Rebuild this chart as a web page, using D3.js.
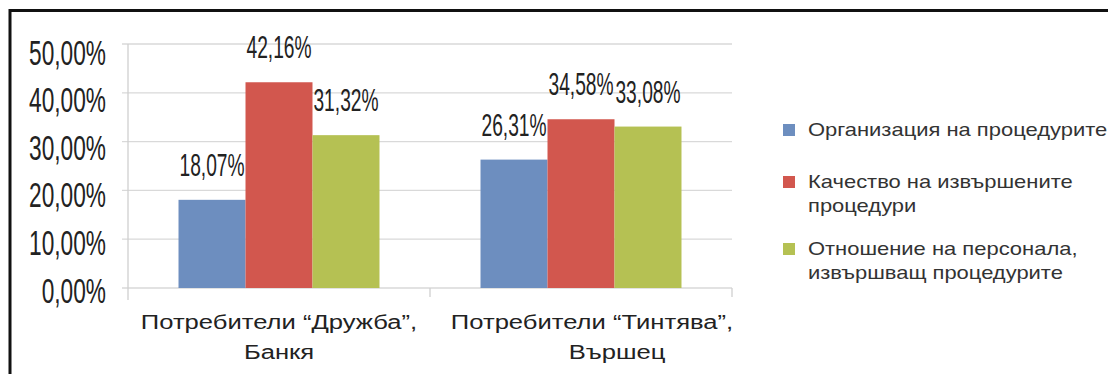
<!DOCTYPE html>
<html><head><meta charset="utf-8">
<script src="https://cdn.jsdelivr.net/npm/d3@7"></script>
<style>body{margin:0;background:#fff}svg{display:block}</style>
</head><body>
<svg id="c" width="1108" height="374"></svg>
<script>
const categories = [["Потребители “Дружба”,", "Банкя"], ["Потребители “Тинтява”,", "Вършец"]];
const seriesNames = [["Организация на процедурите"], ["Качество на извършените", "процедури"], ["Отношение на персонала,", "извършващ процедурите"]];
const seriesValues = [[18.07, 26.31], [42.16, 34.58], [31.32, 33.08]];
const yTicks = [0, 10, 20, 30, 40, 50];
const colors = ["#6d8ebf", "#d2574e", "#b5c153"];

const svg = d3.select("#c");
const numFont = "'Liberation Sans',Arial,sans-serif";
const txtFont = "'Liberation Sans',Arial,sans-serif";

// frame
svg.append("path").attr("d", "M10,380 V10.5 H1110").attr("fill", "none").attr("stroke", "#111").attr("stroke-width", 3);

const x0 = d3.scaleBand().domain(d3.range(categories.length)).range([128, 732]);
const x1 = d3.scaleBand().domain(d3.range(seriesNames.length)).range([0, x0.bandwidth()]).paddingOuter(0.754);
const y = d3.scaleLinear().domain([0, 50]).range([288, 44]);

// gridlines
svg.append("g").selectAll("line").data(yTicks).join("line")
  .attr("x1", 122).attr("x2", 732).attr("y1", d => y(d)).attr("y2", d => y(d))
  .attr("stroke", "#d9d9d9").attr("stroke-width", 1.3);
// y axis line
svg.append("line").attr("x1", 128).attr("x2", 128).attr("y1", y(50)).attr("y2", 300).attr("stroke", "#d0d0d0").attr("stroke-width", 1.3);
// category ticks
svg.append("g").selectAll("line").data(d3.range(categories.length)).join("line")
  .attr("x1", d => x0(d) + x0.bandwidth()).attr("x2", d => x0(d) + x0.bandwidth())
  .attr("y1", y(0)).attr("y2", y(0) + 9).attr("stroke", "#d0d0d0").attr("stroke-width", 1.3);

// y tick labels
svg.append("g").selectAll("text").data(yTicks).join("text")
  .attr("transform", d => `translate(106,${y(d) + 2 + d * 0.12}) scale(0.81,1.28)`)
  .attr("text-anchor", "end").attr("dominant-baseline", "central")
  .attr("font-family", numFont).attr("font-size", 28).attr("fill", "#222")
  .text(d => d3.format(".2f")(d).replace(".", ",") + "%");

// bars
const groups = svg.append("g").selectAll("g").data(d3.range(categories.length)).join("g")
  .attr("transform", c => `translate(${x0(c)},0)`);
groups.selectAll("rect").data(c => seriesValues.map((s, i) => ({ i, v: s[c] }))).join("rect")
  .attr("x", d => x1(d.i)).attr("width", x1.bandwidth())
  .attr("y", d => y(d.v)).attr("height", d => y(0) - y(d.v))
  .attr("fill", d => colors[d.i]);
groups.selectAll("text").data(c => seriesValues.map((s, i) => ({ i, v: s[c] }))).join("text")
  .attr("transform", d => `translate(${x1(d.i) + x1.bandwidth() / 2},${y(d.v) - 24}) scale(0.8,1.28)`)
  .attr("text-anchor", "middle")
  .attr("font-family", numFont).attr("font-size", 24).attr("fill", "#222")
  .text(d => d3.format(".2f")(d.v).replace(".", ",") + "%");

// category labels
const line2Shift = [0, 36], line1Shift = [0, 11];
svg.append("g").selectAll("g").data(d3.range(categories.length)).join("g").each(function (c) {
  const g = d3.select(this);
  const cx = x0(c) + x0.bandwidth() / 2;
  categories[c].forEach((t, k) => {
    g.append("text")
      .attr("transform", `translate(${cx + (k ? line2Shift[c] : line1Shift[c])},${329 + k * 30}) scale(1.28,1)`)
      .attr("text-anchor", "middle").attr("font-family", txtFont).attr("font-size", 20).attr("fill", "#222")
      .text(t);
  });
});

// legend
const legY = [130, 182, 249];
const leg = svg.append("g").selectAll("g").data(seriesNames).join("g")
  .attr("transform", (d, i) => `translate(783,${legY[i]})`);
leg.append("rect").attr("x", 0).attr("y", -6).attr("width", 12).attr("height", 12).attr("fill", (d, i) => colors[i]);
leg.each(function (d) {
  const g = d3.select(this);
  d.forEach((t, k) => {
    g.append("text").attr("transform", `translate(25,${6 + k * 24}) scale(1.22,1)`)
      .attr("font-family", txtFont).attr("font-size", 18).attr("fill", "#333").text(t);
  });
});
</script>
</body></html>
